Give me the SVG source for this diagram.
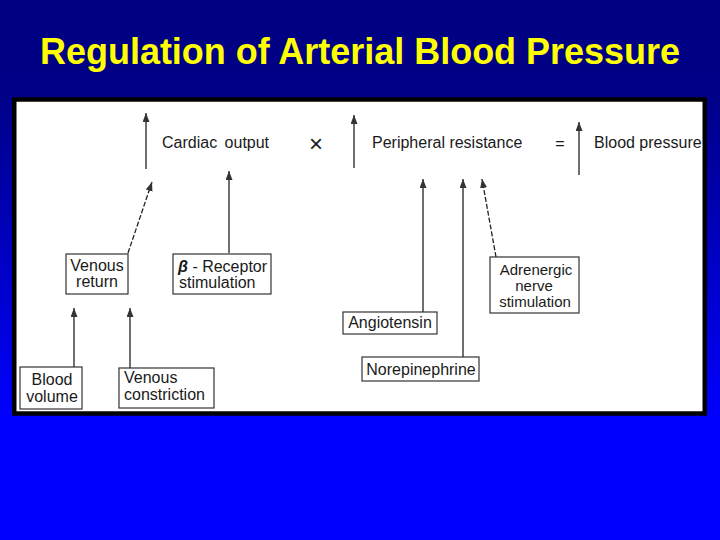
<svg xmlns="http://www.w3.org/2000/svg" width="720" height="540" viewBox="0 0 720 540">
<defs>
<linearGradient id="bg" x1="0" y1="0" x2="0" y2="1">
<stop offset="0" stop-color="#000080"/>
<stop offset="0.18" stop-color="#000088"/>
<stop offset="0.78" stop-color="#0000ff"/>
<stop offset="1" stop-color="#0000ff"/>
</linearGradient>
<marker id="ah" markerUnits="userSpaceOnUse" markerWidth="10" markerHeight="8" refX="9" refY="3.5" orient="auto">
<path d="M0,0 L9,3.5 L0,7 z" fill="#333"/>
</marker>
<clipPath id="panelclip"><rect x="16" y="102" width="686" height="309"/></clipPath>
</defs>
<style>
.t{font-family:"Liberation Sans",Arial,sans-serif;font-size:16px;fill:#1a1a1a}
.s{font-size:15px}
.x{font-size:24px}
.box{fill:#fff;stroke:#333;stroke-width:1.2}
.ln{stroke:#222;stroke-width:1.3;fill:none;marker-end:url(#ah)}
.dash{stroke-dasharray:5,2}
</style>
<rect x="0" y="0" width="720" height="540" fill="url(#bg)"/>
<text x="40" y="64" font-family="'Liberation Sans',Arial,sans-serif" font-weight="bold" font-size="36" fill="#ffff00" textLength="640" lengthAdjust="spacingAndGlyphs">Regulation of Arterial Blood Pressure</text>
<rect x="14.25" y="99.5" width="690.5" height="314" fill="#fff" stroke="#000" stroke-width="4.5"/>
<g clip-path="url(#panelclip)">
<g id="equation">
<text class="t" x="162" y="148" word-spacing="3">Cardiac output</text>
<text class="t x" x="316" y="152" text-anchor="middle">×</text>
<text class="t" x="372" y="148">Peripheral resistance</text>
<text class="t" x="560" y="149" text-anchor="middle">=</text>
<text class="t" x="594" y="148">Blood pressure</text>
</g>
<g id="connectors">
<line class="ln" x1="146" y1="169" x2="146" y2="113"/>
<line class="ln" x1="354" y1="168" x2="354" y2="115"/>
<line class="ln" x1="579" y1="175" x2="579" y2="122"/>
<line class="ln dash" x1="128" y1="253" x2="152" y2="182"/>
<line class="ln" x1="229" y1="253" x2="229" y2="171"/>
<line class="ln" x1="74" y1="367" x2="74" y2="308"/>
<line class="ln" x1="130" y1="368" x2="130" y2="308"/>
<line class="ln" x1="423" y1="312" x2="423" y2="179"/>
<line class="ln" x1="463" y1="357" x2="463" y2="179"/>
<line class="ln dash" x1="496" y1="257" x2="482" y2="179"/>
</g>
<g id="venous-return">
<rect class="box" x="66" y="254" width="62" height="40"/>
<text class="t" x="97" y="271" text-anchor="middle">Venous</text>
<text class="t" x="97" y="287" text-anchor="middle">return</text>
</g>
<g id="beta-receptor">
<rect class="box" x="173" y="254" width="98" height="40"/>
<text class="t" x="178" y="272"><tspan font-style="italic" font-weight="bold">β</tspan> - Receptor</text>
<text class="t" x="179" y="288">stimulation</text>
</g>
<g id="blood-volume">
<rect class="box" x="20" y="367" width="62" height="42"/>
<text class="t" x="52" y="385" text-anchor="middle">Blood</text>
<text class="t" x="52" y="402" text-anchor="middle">volume</text>
</g>
<g id="venous-constriction">
<rect class="box" x="119" y="368" width="95" height="40"/>
<text class="t" x="124" y="383">Venous</text>
<text class="t" x="124" y="400">constriction</text>
</g>
<g id="angiotensin">
<rect class="box" x="343" y="312" width="94" height="22"/>
<text class="t" x="390" y="328" text-anchor="middle">Angiotensin</text>
</g>
<g id="norepinephrine">
<rect class="box" x="362" y="357" width="117" height="24"/>
<text class="t" x="421" y="375" text-anchor="middle">Norepinephrine</text>
</g>
<g id="adrenergic">
<rect class="box" x="490" y="257" width="89" height="56"/>
<text class="t s" x="536" y="275" text-anchor="middle">Adrenergic</text>
<text class="t s" x="534" y="291" text-anchor="middle">nerve</text>
<text class="t s" x="535" y="307" text-anchor="middle">stimulation</text>
</g>
</g>
</svg>
